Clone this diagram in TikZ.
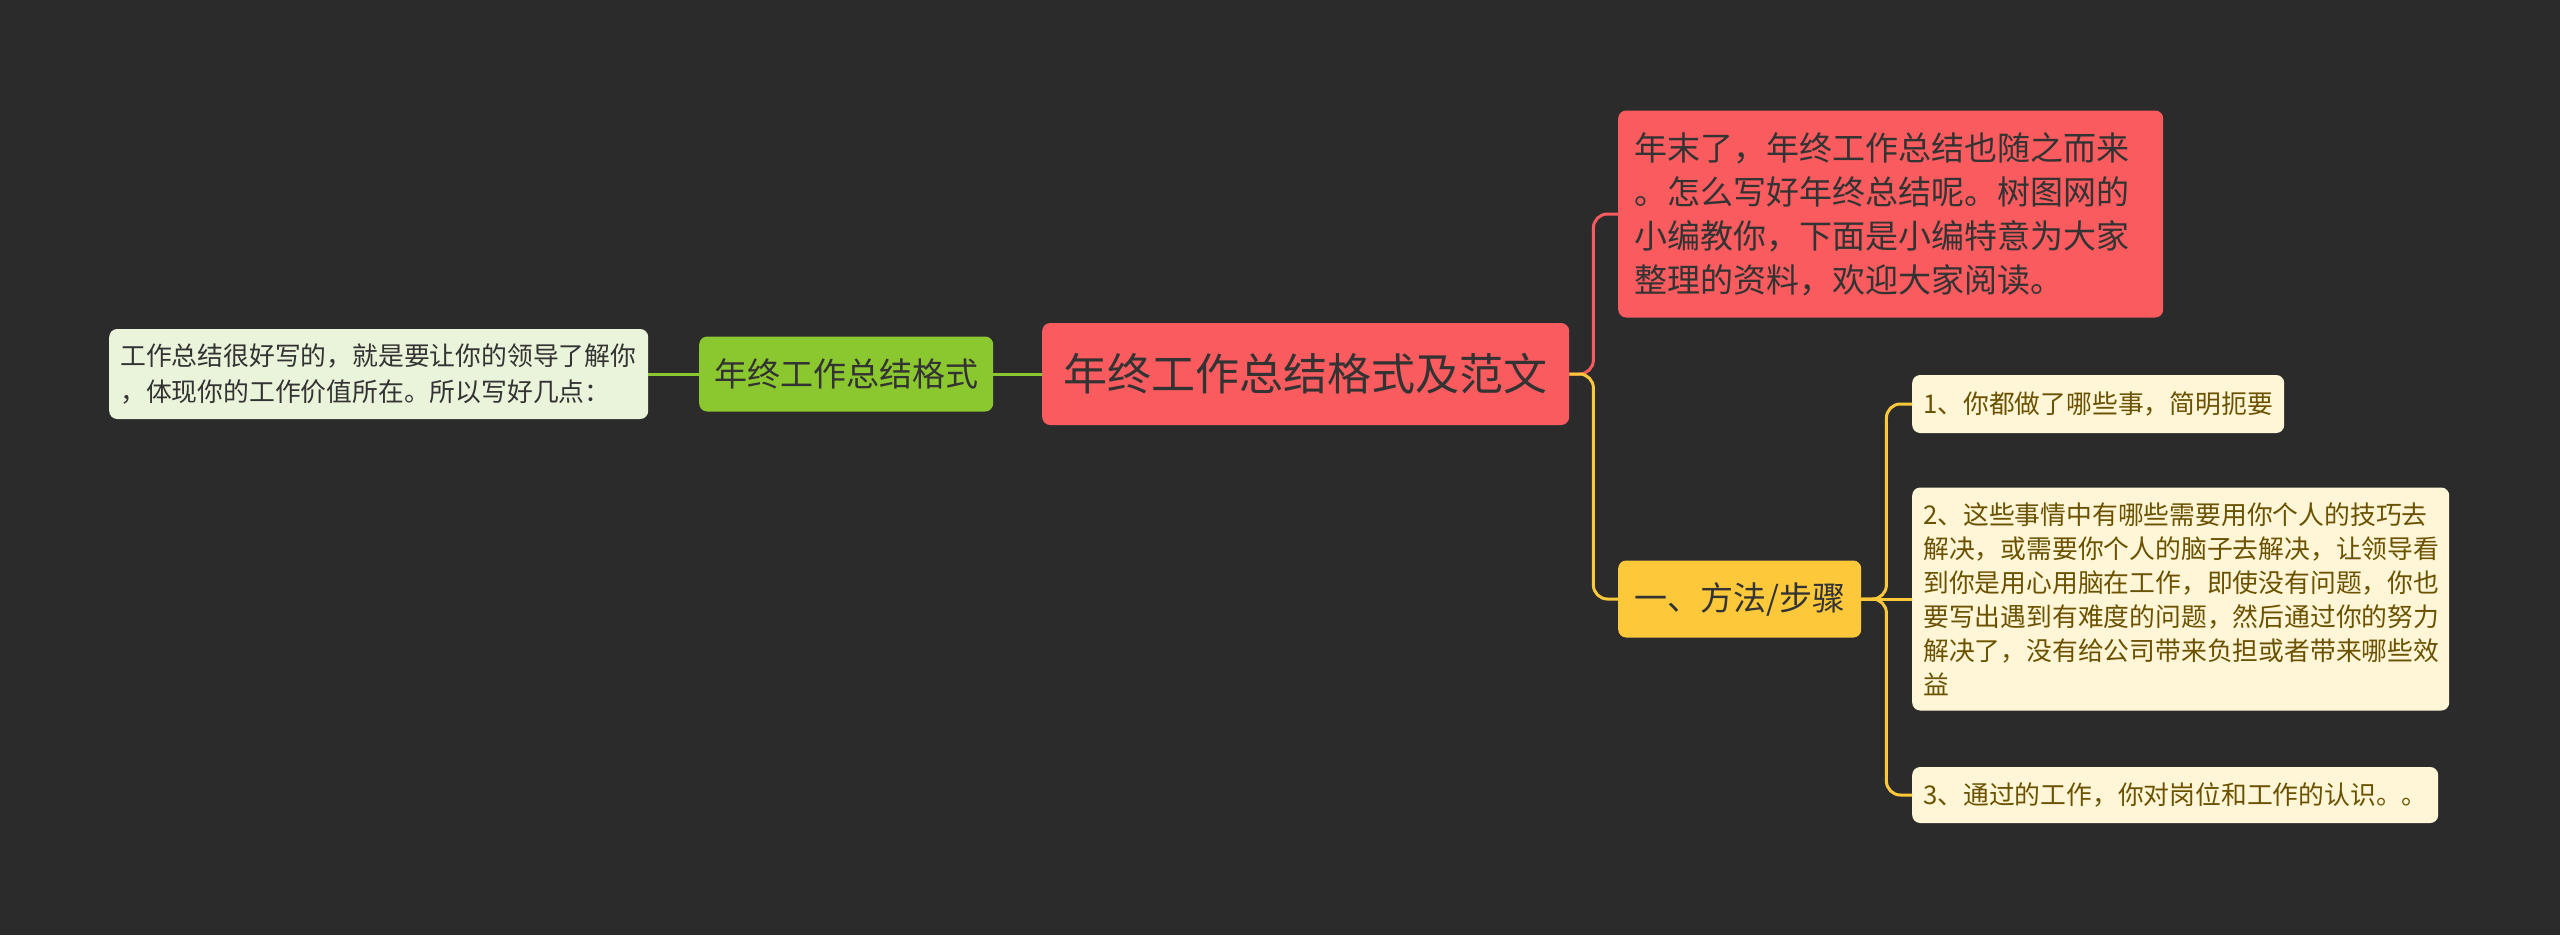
\documentclass[tikz,border=0pt]{standalone}
\usepackage{fontspec}
\setmainfont{Noto Sans CJK SC}
\usetikzlibrary{positioning}
\definecolor{mmbg}{HTML}{2B2B2B}
\definecolor{mmred}{HTML}{F95B5E}
\definecolor{mmgreen}{HTML}{8BC72E}
\definecolor{mmpale}{HTML}{EAF4DA}
\definecolor{mmyellow}{HTML}{FDC93B}
\definecolor{mmcream}{HTML}{FFF6D8}
\definecolor{mmdark}{HTML}{333333}
\definecolor{mmbrown}{HTML}{6B5200}

\begin{document}
\begin{tikzpicture}
    [x=1pt, y=-1pt,
    box/.style={rounded corners=8pt, inner sep=0pt, anchor=west},
    rootbox/.style={box, fill=mmred, text=mmdark, font=\fontsize{44pt}{54pt}\selectfont,
        minimum width=527pt, minimum height=102pt},
    fmtbox/.style={box, fill=mmgreen, text=mmdark, font=\fontsize{33pt}{40pt}\selectfont,
        minimum width=294pt, minimum height=75pt},
    notebox/.style={box, fill=mmpale, text=mmdark, font=\fontsize{25.8pt}{36pt}\selectfont,
        align=left, inner xsep=11pt, text width=517pt, minimum height=90pt},
    descbox/.style={box, fill=mmred, text=mmdark, font=\fontsize{33pt}{44pt}\selectfont,
        align=left, inner xsep=16pt, text width=513pt, minimum height=207pt},
    stepsbox/.style={box, fill=mmyellow, text=mmdark, font=\fontsize{33pt}{40pt}\selectfont,
        minimum width=243pt, minimum height=77pt},
    itembox/.style={box, fill=mmcream, text=mmbrown, font=\fontsize{25.8pt}{34pt}\selectfont,
        align=left, inner xsep=11pt},
    link/.style={line width=3pt, rounded corners=14pt},
    greenlink/.style={link, draw=mmgreen},
    redlink/.style={link, draw=mmred},
    yellowlink/.style={link, draw=mmyellow}]
        \fill[mmbg] (0,0) rectangle (2560,935);
        \useasboundingbox (0,0) rectangle (2560,935);

        %% Centre and left branch
        \node[rootbox] (root) at (1042,374) {年终工作总结格式及范文};
        \node[fmtbox] (fmt) at (699,374) {年终工作总结格式};
        \node[notebox] (note) at (109,374) {工作总结很好写的，就是要让你的领导了解你\\，体现你的工作价值所在。所以写好几点：};

        \draw[greenlink] (note.east) -- (fmt.west);
        \draw[greenlink] (fmt.east) -- (root.west);

        %% Right branches
        \node[descbox] (desc) at (1618,214) {年末了，年终工作总结也随之而来\\。怎么写好年终总结呢。树图网的\\小编教你，下面是小编特意为大家\\整理的资料，欢迎大家阅读。};
        \node[stepsbox] (steps) at (1618,599) {一、方法/步骤};

        \draw[redlink] (root.east) -- ++(24,0) |- (desc.west);
        \draw[yellowlink] (root.east) -- ++(24,0) |- (steps.west);

        %% Steps
        \node[itembox, text width=350pt, minimum height=58pt] (s1) at (1912,404) {1、你都做了哪些事，简明扼要};
        \node[itembox, text width=515pt, minimum height=223pt] (s2) at (1912,599) {2、这些事情中有哪些需要用你个人的技巧去\\解决，或需要你个人的脑子去解决，让领导看\\到你是用心用脑在工作，即使没有问题，你也\\要写出遇到有难度的问题，然后通过你的努力\\解决了，没有给公司带来负担或者带来哪些效\\益};
        \node[itembox, text width=504pt, minimum height=56pt] (s3) at (1912,795) {3、通过的工作，你对岗位和工作的认识。。};

        \draw[yellowlink] (steps.east) -- ++(25,0) |- (s1.west);
        \draw[yellowlink] (steps.east) -- (s2.west);
        \draw[yellowlink] (steps.east) -- ++(25,0) |- (s3.west);
    \end{tikzpicture}
\end{document}
